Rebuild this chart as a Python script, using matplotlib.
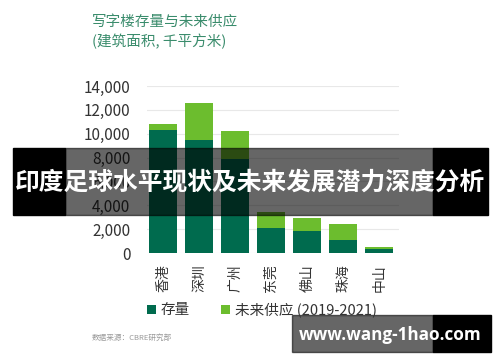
import matplotlib
matplotlib.use('Agg')
from matplotlib import pyplot as plt
from matplotlib.patches import Rectangle
import numpy as np

plt.rcParams['font.family'] = ['Noto Sans CJK SC', 'DejaVu Sans']

cities = ['香港', '深圳', '广州', '东莞', '佛山', '珠海', '中山']
stock = [10300, 9500, 7850, 2100, 1820, 1120, 360]
future = [500, 3100, 2400, 1350, 1100, 1280, 170]
yticks = [0, 2000, 4000, 6000, 8000, 10000, 12000, 14000]

title_lines = '写字楼存量与未来供应\n(建筑面积, 千平方米)'
legend_labels = ['存量', '未来供应 (2019-2021)']
source = '数据来源：CBRE研究部'
banner = '印度足球水平现状及未来发展潜力深度分析'
watermark = 'www.wang-1hao.com'

dark_green = '#006b4e'
light_green = '#6cbd2e'

W, H = 500, 362
fig = plt.figure(figsize=(W / 100, H / 100), dpi=100)
ax = fig.add_axes([147 / W, 1 - 253 / H, 252 / W, 167 / H])

x = np.arange(len(cities))
b1 = ax.bar(x, stock, width=0.78, color=dark_green, zorder=2)
b2 = ax.bar(x, future, width=0.78, bottom=stock, color=light_green, zorder=2)

ax.set_xlim(-0.45, 6.55)
ax.set_ylim(0, 14000)
ax.set_yticks(yticks)
ax.set_yticklabels(['{:,}'.format(v) for v in yticks])
ax.set_xticks(x)
ax.set_xticklabels(cities, rotation=90)
ax.tick_params(axis='y', length=0, pad=12, labelsize=11, labelcolor='#333333')
ax.tick_params(axis='x', length=0, pad=8, labelsize=10, labelcolor='#333333')
ax.grid(axis='y', color='#e8e8e8', linewidth=0.8, zorder=0)
for s in ax.spines.values():
    s.set_visible(False)

fig.text(92 / W, 1 - 15 / H, title_lines, color='#3a8c6c', fontsize=10.5,
         va='top', ha='left', linespacing=1.35)

fig.legend([b1, b2], legend_labels, loc='center left',
           bbox_to_anchor=(147 / W, 1 - 310 / H), ncol=2, frameon=False,
           handlelength=0.6, handleheight=0.6, handletextpad=0.3,
           columnspacing=2.2, fontsize=10.5, labelcolor='#333333',
           borderaxespad=0, borderpad=0)

fig.text(92 / W, 1 - 338 / H, source, color='#999999', fontsize=5.5,
         va='center', ha='left')

# overlay banner
fig.patches.append(Rectangle((13 / W, 1 - 215 / H), 52 / W, 67 / H,
                             transform=fig.transFigure, color='black', zorder=5))
fig.patches.append(Rectangle((65 / W, 1 - 215 / H), 368 / W, 67 / H,
                             transform=fig.transFigure, color='black', alpha=0.6, zorder=5))
fig.patches.append(Rectangle((433 / W, 1 - 215 / H), 55 / W, 67 / H,
                             transform=fig.transFigure, color='black', zorder=5))
fig.text(250 / W, 1 - 182 / H, banner, color='white', fontsize=17.8,
         fontweight='bold', ha='center', va='center', zorder=6)

# watermark box
fig.patches.append(Rectangle((292 / W, 1 - 352 / H), 141 / W, 37 / H,
                             transform=fig.transFigure, color='black', alpha=0.6, zorder=5))
fig.patches.append(Rectangle((433 / W, 1 - 352 / H), 58 / W, 37 / H,
                             transform=fig.transFigure, color='black', zorder=5))
fig.text(390 / W, 1 - 335 / H, watermark, color='white', fontsize=12.3,
         fontweight='bold', ha='center', va='center', zorder=6,
         family=['Open Sans', 'DejaVu Sans'])

fig.savefig('out.png', dpi=100)
